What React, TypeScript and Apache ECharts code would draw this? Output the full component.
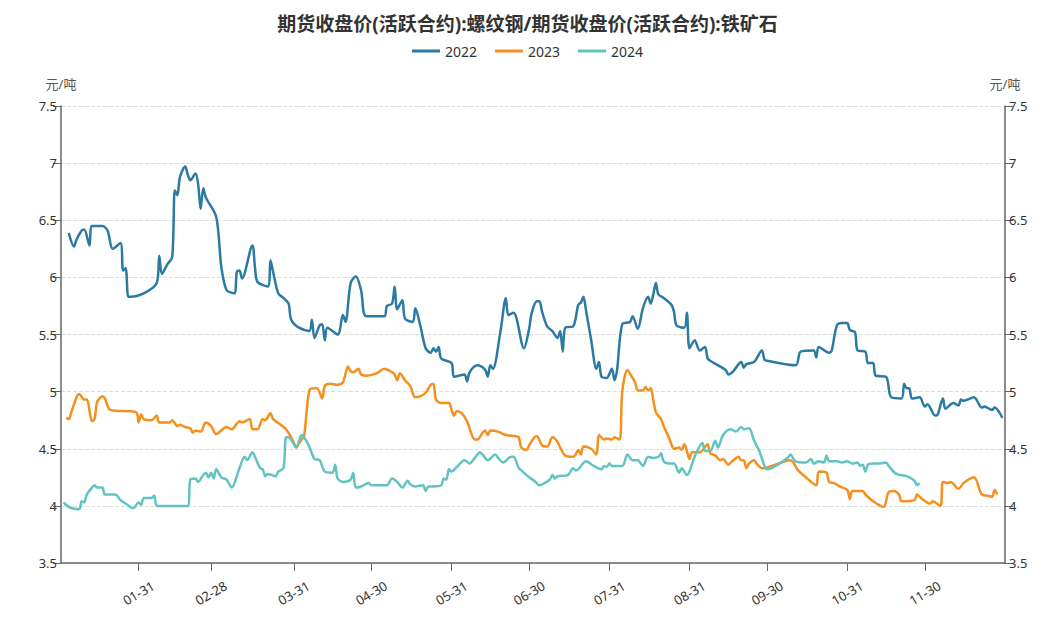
import React, { useEffect, useRef } from "react";
import * as echarts from "echarts";

const TITLE = "期货收盘价(活跃合约):螺纹钢/期货收盘价(活跃合约):铁矿石";
const UNIT = "元/吨";
const SERIES_NAMES = ["2022", "2023", "2024"];
const COLORS = ["#2a7aa4", "#f5901f", "#62c3c1"];

const monthDays = [31, 29, 31, 30, 31, 30, 31, 31, 30, 31, 30, 31];
const pad = (n: number) => (n < 10 ? "0" + n : "" + n);
const categories: string[] = [];
monthDays.forEach((n, m) => {
  for (let d = 1; d <= n; d++) categories.push(pad(m + 1) + "-" + pad(d));
});
const tickLabels = ["01-31", "02-28", "03-31", "04-30", "05-31", "06-30", "07-31", "08-31", "09-30", "10-31", "11-30"];

const yTicks = { min: 3.5, max: 7.5, interval: 0.5 };

const data2022: [string, number][] = [
  ["01-04", 6.39], ["01-06", 6.27], ["01-07", 6.33], ["01-09", 6.41], ["01-10", 6.42], ["01-12", 6.28], ["01-13", 6.45],
  ["01-17", 6.45], ["01-19", 6.41], ["01-21", 6.25], ["01-24", 6.3], ["01-25", 6.06], ["01-26", 6.08], ["01-27", 5.83],
  ["01-28", 5.83], ["02-07", 5.95], ["02-08", 6.19], ["02-09", 6.03], ["02-11", 6.11], ["02-13", 6.18], ["02-14", 6.76],
  ["02-15", 6.72], ["02-16", 6.88], ["02-18", 6.97], ["02-19", 6.9], ["02-20", 6.85], ["02-22", 6.91], ["02-23", 6.82],
  ["02-24", 6.6], ["02-25", 6.78], ["02-26", 6.7], ["03-01", 6.53], ["03-03", 6.09], ["03-05", 5.89], ["03-08", 5.86],
  ["03-09", 6.05], ["03-10", 6.06], ["03-11", 5.99], ["03-15", 6.28], ["03-16", 6.09], ["03-17", 5.96], ["03-21", 5.92],
  ["03-22", 6.15], ["03-23", 6.05], ["03-25", 5.86], ["03-27", 5.82], ["03-29", 5.77], ["03-30", 5.63], ["04-02", 5.56],
  ["04-06", 5.53], ["04-07", 5.63], ["04-08", 5.47], ["04-10", 5.58], ["04-11", 5.59], ["04-12", 5.45], ["04-13", 5.56],
  ["04-17", 5.5], ["04-19", 5.67], ["04-20", 5.61], ["04-22", 5.95], ["04-24", 6.01], ["04-26", 5.89], ["04-28", 5.66],
  ["05-05", 5.66], ["05-06", 5.75], ["05-08", 5.77], ["05-09", 5.92], ["05-10", 5.72], ["05-12", 5.8], ["05-13", 5.64],
  ["05-16", 5.61], ["05-17", 5.73], ["05-19", 5.57], ["05-21", 5.38], ["05-23", 5.34], ["05-24", 5.38], ["05-25", 5.35],
  ["05-26", 5.39], ["05-27", 5.29], ["05-31", 5.25], ["06-01", 5.13], ["06-05", 5.15], ["06-06", 5.09], ["06-07", 5.17],
  ["06-10", 5.23], ["06-13", 5.19], ["06-14", 5.13], ["06-15", 5.23], ["06-16", 5.2], ["06-19", 5.54], ["06-21", 5.82],
  ["06-22", 5.67], ["06-24", 5.69], ["06-28", 5.38], ["06-30", 5.55], ["07-01", 5.69], ["07-03", 5.79], ["07-04", 5.79],
  ["07-05", 5.7], ["07-07", 5.57], ["07-09", 5.53], ["07-11", 5.47], ["07-12", 5.53], ["07-13", 5.35], ["07-14", 5.56],
  ["07-17", 5.57], ["07-19", 5.76], ["07-20", 5.78], ["07-21", 5.83], ["07-22", 5.71], ["07-24", 5.45], ["07-26", 5.2],
  ["07-27", 5.26], ["07-28", 5.13], ["07-30", 5.12], ["08-01", 5.2], ["08-02", 5.1], ["08-03", 5.19], ["08-05", 5.59],
  ["08-08", 5.61], ["08-09", 5.66], ["08-11", 5.55], ["08-13", 5.73], ["08-15", 5.83], ["08-16", 5.77], ["08-17", 5.85],
  ["08-18", 5.95], ["08-19", 5.85], ["08-21", 5.82], ["08-24", 5.76], ["08-25", 5.7], ["08-26", 5.58], ["08-29", 5.56],
  ["08-30", 5.69], ["08-31", 5.38], ["09-02", 5.45], ["09-04", 5.36], ["09-06", 5.39], ["09-07", 5.29], ["09-08", 5.27],
  ["09-14", 5.19], ["09-15", 5.15], ["09-17", 5.18], ["09-20", 5.26], ["09-21", 5.21], ["09-22", 5.24], ["09-25", 5.26],
  ["09-28", 5.36], ["09-29", 5.28], ["09-30", 5.27], ["10-11", 5.23], ["10-13", 5.35], ["10-18", 5.36], ["10-19", 5.3],
  ["10-20", 5.39], ["10-24", 5.34], ["10-25", 5.36], ["10-27", 5.58], ["10-29", 5.6], ["10-31", 5.6], ["11-01", 5.54],
  ["11-03", 5.52], ["11-04", 5.36], ["11-07", 5.35], ["11-08", 5.25], ["11-10", 5.25], ["11-11", 5.14], ["11-15", 5.13],
  ["11-17", 4.95], ["11-21", 4.94], ["11-22", 5.07], ["11-23", 5.03], ["11-24", 5.03], ["11-25", 4.94], ["11-28", 4.95],
  ["11-30", 4.87], ["12-01", 4.89], ["12-04", 4.79], ["12-05", 4.8], ["12-07", 4.94], ["12-08", 4.85], ["12-11", 4.9],
  ["12-13", 4.88], ["12-14", 4.93], ["12-15", 4.92], ["12-19", 4.95], ["12-22", 4.86], ["12-23", 4.87], ["12-26", 4.84],
  ["12-27", 4.86], ["12-30", 4.77],
];

const data2023: [string, number][] = [
  ["01-03", 4.77], ["01-04", 4.76], ["01-05", 4.82], ["01-07", 4.95], ["01-08", 4.98], ["01-10", 4.93], ["01-11", 4.93],
  ["01-13", 4.74], ["01-14", 4.76], ["01-15", 4.91], ["01-17", 4.96], ["01-18", 4.94], ["01-20", 4.84], ["01-30", 4.82],
  ["01-31", 4.73], ["02-01", 4.8], ["02-02", 4.76], ["02-05", 4.75], ["02-07", 4.79], ["02-08", 4.73], ["02-12", 4.73],
  ["02-13", 4.75], ["02-15", 4.7], ["02-16", 4.71], ["02-18", 4.69], ["02-20", 4.68], ["02-21", 4.64], ["02-22", 4.66],
  ["02-24", 4.65], ["02-26", 4.73], ["02-28", 4.7], ["03-01", 4.63], ["03-05", 4.69], ["03-07", 4.67], ["03-10", 4.74],
  ["03-11", 4.73], ["03-14", 4.76], ["03-15", 4.67], ["03-17", 4.67], ["03-19", 4.76], ["03-20", 4.75], ["03-22", 4.81],
  ["03-23", 4.76], ["03-26", 4.71], ["03-28", 4.67], ["03-30", 4.6], ["04-01", 4.52], ["04-03", 4.58], ["04-04", 4.61],
  ["04-06", 5.01], ["04-08", 5.03], ["04-09", 5.03], ["04-11", 4.94], ["04-12", 5.05], ["04-14", 5.07], ["04-17", 5.06],
  ["04-19", 5.08], ["04-21", 5.22], ["04-22", 5.18], ["04-23", 5.17], ["04-25", 5.2], ["04-26", 5.15], ["04-28", 5.14],
  ["05-02", 5.16], ["05-05", 5.2], ["05-08", 5.17], ["05-09", 5.15], ["05-10", 5.1], ["05-11", 5.16], ["05-13", 5.1],
  ["05-15", 5.05], ["05-17", 4.95], ["05-19", 4.96], ["05-21", 4.99], ["05-23", 5.06], ["05-24", 5.07], ["05-25", 4.93],
  ["05-27", 4.9], ["05-30", 4.9], ["05-31", 4.84], ["06-01", 4.79], ["06-02", 4.83], ["06-04", 4.81], ["06-06", 4.74],
  ["06-09", 4.58], ["06-10", 4.58], ["06-12", 4.64], ["06-13", 4.66], ["06-14", 4.62], ["06-15", 4.66], ["06-18", 4.65],
  ["06-21", 4.62], ["06-25", 4.61], ["06-26", 4.6], ["06-27", 4.51], ["06-29", 4.49], ["06-30", 4.53], ["07-02", 4.6],
  ["07-03", 4.61], ["07-05", 4.53], ["07-07", 4.52], ["07-09", 4.6], ["07-11", 4.56], ["07-12", 4.51], ["07-14", 4.44],
  ["07-17", 4.43], ["07-18", 4.45], ["07-19", 4.49], ["07-20", 4.45], ["07-21", 4.52], ["07-24", 4.5], ["07-26", 4.45],
  ["07-27", 4.62], ["07-29", 4.58], ["07-30", 4.59], ["08-01", 4.58], ["08-02", 4.6], ["08-04", 4.58], ["08-05", 5.0],
  ["08-07", 5.19], ["08-09", 5.12], ["08-10", 5.08], ["08-11", 5.01], ["08-13", 5.01], ["08-14", 5.04], ["08-15", 5.01],
  ["08-16", 5.03], ["08-17", 4.93], ["08-18", 4.82], ["08-20", 4.76], ["08-21", 4.7], ["08-23", 4.6], ["08-24", 4.54],
  ["08-25", 4.5], ["08-27", 4.51], ["08-28", 4.49], ["08-29", 4.54], ["08-30", 4.48], ["08-31", 4.41], ["09-01", 4.47],
  ["09-04", 4.47], ["09-07", 4.54], ["09-08", 4.46], ["09-10", 4.44], ["09-12", 4.4], ["09-13", 4.41], ["09-15", 4.36],
  ["09-16", 4.38], ["09-19", 4.43], ["09-20", 4.4], ["09-21", 4.4], ["09-22", 4.33], ["09-23", 4.37], ["09-25", 4.4],
  ["09-26", 4.37], ["09-28", 4.33], ["10-09", 4.4], ["10-12", 4.31], ["10-15", 4.25], ["10-19", 4.18], ["10-20", 4.3],
  ["10-23", 4.29], ["10-24", 4.21], ["10-26", 4.2], ["10-28", 4.17], ["10-31", 4.14], ["11-01", 4.06], ["11-02", 4.13],
  ["11-06", 4.13], ["11-07", 4.1], ["11-10", 4.04], ["11-14", 3.99], ["11-16", 4.12], ["11-18", 4.13], ["11-20", 4.1],
  ["11-21", 4.04], ["11-26", 4.05], ["11-27", 4.1], ["11-29", 4.06], ["12-02", 4.02], ["12-03", 4.04], ["12-06", 4.0],
  ["12-07", 4.21], ["12-09", 4.2], ["12-10", 4.21], ["12-13", 4.15], ["12-15", 4.2], ["12-19", 4.25], ["12-22", 4.1],
  ["12-24", 4.09], ["12-26", 4.08], ["12-27", 4.14], ["12-28", 4.1],
];

const data2024: [string, number][] = [
  ["01-02", 4.03], ["01-04", 3.99], ["01-08", 3.97], ["01-09", 4.04], ["01-10", 4.03], ["01-11", 4.1], ["01-13", 4.16],
  ["01-14", 4.18], ["01-15", 4.16], ["01-17", 4.16], ["01-18", 4.1], ["01-22", 4.1], ["01-24", 4.05], ["01-26", 4.02],
  ["01-29", 3.98], ["01-31", 4.03], ["02-01", 4.01], ["02-02", 4.07], ["02-05", 4.07], ["02-06", 4.09], ["02-07", 4.0],
  ["02-08", 4.0], ["02-19", 4.0], ["02-20", 4.23], ["02-22", 4.24], ["02-23", 4.21], ["02-25", 4.27], ["02-26", 4.29],
  ["02-27", 4.25], ["02-28", 4.29], ["02-29", 4.24], ["03-01", 4.32], ["03-03", 4.25], ["03-05", 4.23], ["03-07", 4.16],
  ["03-10", 4.33], ["03-12", 4.43], ["03-13", 4.4], ["03-15", 4.47], ["03-16", 4.43], ["03-18", 4.33], ["03-19", 4.32],
  ["03-20", 4.26], ["03-21", 4.28], ["03-24", 4.26], ["03-25", 4.3], ["03-27", 4.33], ["03-28", 4.6], ["03-29", 4.6],
  ["04-01", 4.51], ["04-03", 4.62], ["04-04", 4.6], ["04-06", 4.52], ["04-08", 4.41], ["04-10", 4.4], ["04-12", 4.3],
  ["04-15", 4.29], ["04-16", 4.36], ["04-17", 4.24], ["04-19", 4.21], ["04-22", 4.23], ["04-23", 4.29], ["04-24", 4.16],
  ["04-26", 4.17], ["04-29", 4.2], ["04-30", 4.18], ["05-06", 4.18], ["05-08", 4.24], ["05-10", 4.21], ["05-12", 4.16],
  ["05-14", 4.22], ["05-15", 4.19], ["05-17", 4.17], ["05-20", 4.18], ["05-21", 4.13], ["05-22", 4.17], ["05-24", 4.17],
  ["05-27", 4.18], ["05-28", 4.24], ["05-29", 4.23], ["05-30", 4.32], ["05-31", 4.3], ["06-02", 4.34], ["06-05", 4.4],
  ["06-07", 4.37], ["06-09", 4.42], ["06-11", 4.47], ["06-12", 4.45], ["06-14", 4.4], ["06-17", 4.45], ["06-18", 4.42],
  ["06-20", 4.38], ["06-23", 4.43], ["06-24", 4.43], ["06-26", 4.33], ["06-27", 4.31], ["06-30", 4.25], ["07-02", 4.22],
  ["07-04", 4.18], ["07-06", 4.2], ["07-08", 4.23], ["07-09", 4.27], ["07-10", 4.24], ["07-11", 4.26], ["07-15", 4.27],
  ["07-17", 4.33], ["07-18", 4.31], ["07-19", 4.32], ["07-22", 4.39], ["07-25", 4.35], ["07-28", 4.32], ["07-29", 4.35],
  ["07-30", 4.34], ["07-31", 4.37], ["08-01", 4.35], ["08-05", 4.35], ["08-07", 4.45], ["08-09", 4.4], ["08-11", 4.4],
  ["08-13", 4.35], ["08-15", 4.43], ["08-17", 4.42], ["08-19", 4.43], ["08-20", 4.46], ["08-21", 4.39], ["08-23", 4.37],
  ["08-25", 4.37], ["08-27", 4.29], ["08-28", 4.33], ["08-30", 4.27], ["08-31", 4.3], ["09-02", 4.43], ["09-05", 4.55],
  ["09-06", 4.48], ["09-08", 4.48], ["09-10", 4.57], ["09-11", 4.51], ["09-13", 4.62], ["09-16", 4.67], ["09-18", 4.65],
  ["09-20", 4.69], ["09-21", 4.67], ["09-23", 4.68], ["09-25", 4.57], ["09-27", 4.48], ["09-29", 4.35], ["09-30", 4.32],
  ["10-08", 4.42], ["10-09", 4.45], ["10-11", 4.39], ["10-15", 4.38], ["10-17", 4.41], ["10-18", 4.37], ["10-20", 4.39],
  ["10-22", 4.38], ["10-23", 4.44], ["10-24", 4.39], ["10-27", 4.39], ["10-29", 4.38], ["10-31", 4.39], ["11-02", 4.37],
  ["11-04", 4.38], ["11-05", 4.35], ["11-06", 4.36], ["11-07", 4.3], ["11-08", 4.36], ["11-10", 4.37], ["11-12", 4.37],
  ["11-15", 4.38], ["11-16", 4.35], ["11-19", 4.28], ["11-23", 4.26], ["11-26", 4.22], ["11-27", 4.18], ["11-28", 4.2],
];

const allData = [data2022, data2023, data2024];

const FONT = "'Noto Sans', 'Noto Sans CJK SC', sans-serif";

export default function App() {
  const ref = useRef<HTMLDivElement>(null);
  useEffect(() => {
    document.body.style.margin = "0";
    if (!ref.current) return;
    const chart = echarts.init(ref.current, null, { renderer: "svg" });
    const showTick = (_i: number, v: string) => tickLabels.indexOf(v) >= 0;
    const yAxisBase = {
      type: "value",
      min: yTicks.min,
      max: yTicks.max,
      interval: yTicks.interval,
      name: UNIT,
      nameGap: 16,
      nameTextStyle: { color: "#555", fontSize: 13, fontFamily: FONT },
      axisLine: { show: true, lineStyle: { color: "#666", width: 1.5 } },
      axisTick: { show: true, length: 8, lineStyle: { color: "#666" } },
      axisLabel: { color: "#333", fontSize: 13, fontFamily: FONT, margin: 4 },
    };
    chart.setOption({
      animation: false,
      textStyle: { fontFamily: FONT },
      title: {
        text: TITLE,
        left: "center",
        top: 9,
        textStyle: { fontSize: 19, fontWeight: "bold", color: "#333", fontFamily: FONT },
      },
      legend: {
        top: 39,
        left: "center",
        data: SERIES_NAMES,
        icon: "rect",
        itemWidth: 28,
        itemHeight: 3,
        itemGap: 18,
        textStyle: { fontSize: 14, color: "#333", fontFamily: FONT },
      },
      grid: { left: 61, right: 50, top: 106, bottom: 61, containLabel: false },
      xAxis: {
        type: "category",
        data: categories,
        boundaryGap: false,
        axisLine: { lineStyle: { color: "#666", width: 1.5 } },
        axisTick: { show: true, interval: showTick, length: 8, lineStyle: { color: "#666" } },
        axisLabel: {
          interval: showTick,
          rotate: 30,
          align: "center",
          verticalAlign: "middle",
          margin: 30,
          color: "#333",
          fontSize: 13,
          fontFamily: FONT,
        },
        splitLine: { show: false },
      },
      yAxis: [
        {
          ...yAxisBase,
          position: "left",
          splitLine: { show: true, lineStyle: { color: "#ddd", type: "dashed" } },
        },
        {
          ...yAxisBase,
          position: "right",
          splitLine: { show: false },
        },
      ],
      series: SERIES_NAMES.map((name, i) => ({
        name,
        type: "line",
        yAxisIndex: 0,
        data: allData[i],
        showSymbol: false,
        smooth: 0.3,
        lineStyle: { width: 2.5, color: COLORS[i] },
        itemStyle: { color: COLORS[i] },
      })),
    });
    return () => chart.dispose();
  }, []);
  return <div ref={ref} style={{ width: 1055, height: 624 }} />;
}
